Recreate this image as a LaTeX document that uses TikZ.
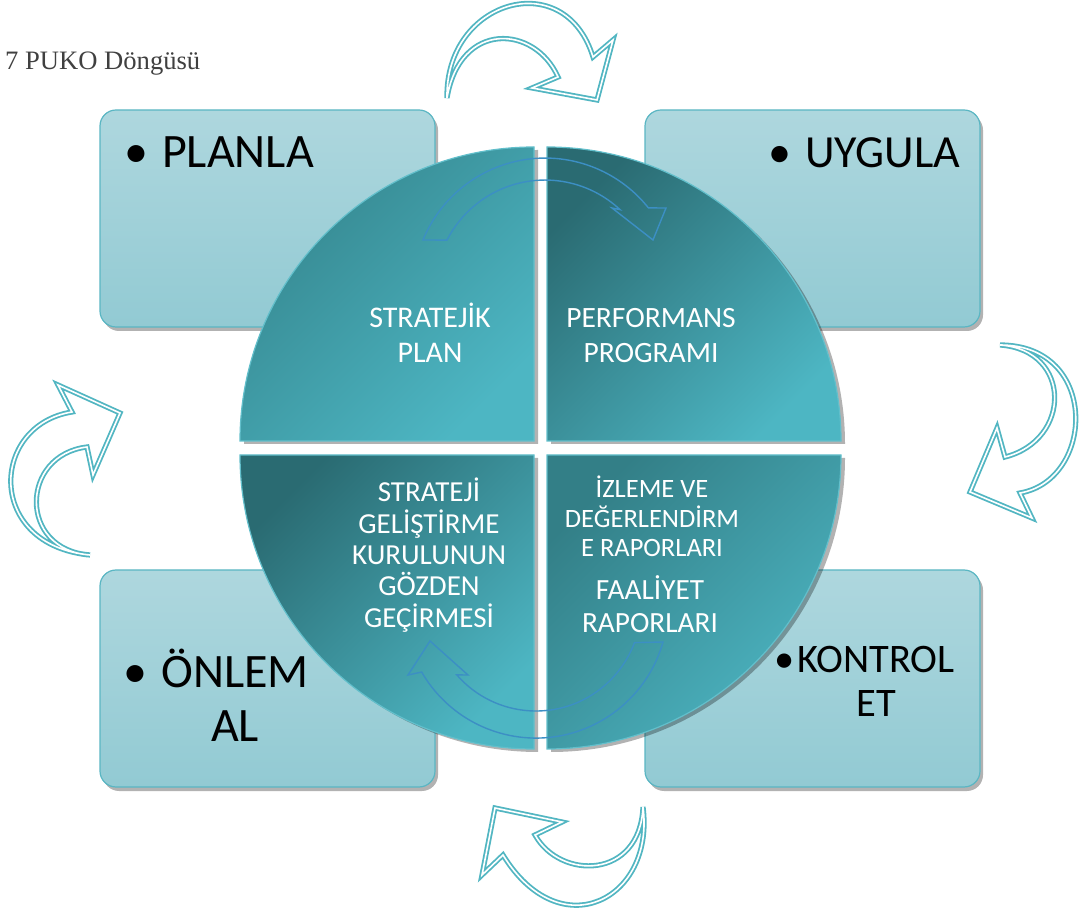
\documentclass[tikz,border=0pt]{standalone}
\usepackage{fontspec}
\setmainfont{Carlito}
\newfontfamily\titlefont{Liberation Serif}
\usetikzlibrary{shadows}
\definecolor{boxtop}{HTML}{AED7DE}
\definecolor{boxbot}{HTML}{92CAD3}
\definecolor{boxedge}{HTML}{5AB6C3}
\definecolor{arrowteal}{HTML}{52B6C2}
\definecolor{innerblue}{HTML}{3C8FC4}
\definecolor{qedge}{HTML}{62BFCB}
\definecolor{qlight}{HTML}{4DB6C3}
\definecolor{qdark}{HTML}{2A6B72}
\definecolor{qmid}{HTML}{35868E}
\definecolor{qmidb}{HTML}{337F87}
\definecolor{titlegray}{HTML}{404040}
\newcommand\mystack[1]{\vtop{\lineskiplimit=-1000pt\lineskip=0pt\halign{\hfil##\hfil\cr#1\crcr}}}
\begin{document}
\begin{tikzpicture}[x=1pt,y=1pt,
  box/.style={draw=boxedge, line width=1.2pt, rounded corners=16pt, top color=boxtop, bottom color=boxbot,
    minimum width=335pt, minimum height=217pt, inner sep=0pt,
    drop shadow={shadow xshift=3pt, shadow yshift=-4pt, opacity=0.3, fill=black}},
  quarter/.style n args={2}{draw=qedge, line width=1.2pt, top color=#1, bottom color=#2, shading angle=45,
    drop shadow={shadow xshift=4pt, shadow yshift=-3pt, opacity=0.3, fill=black}},
  innerarrow/.style={draw=innerblue, line width=1.4pt, line join=miter},
  outerarrow/.style={draw=arrowteal, line width=1.8pt, double=white, double distance=1.6pt, line join=miter},
  boxlabel/.style={inner sep=0pt, text=black, font=\fontsize{48}{54}\selectfont},
  qtext/.style={inner sep=0pt, text=white, anchor=base}
]
\useasboundingbox (0,0) rectangle (1081,913);

% boxes
\node[box] (planbox) at (267.5,694.5) {};
\node[box] (uygbox) at (812.5,694.5) {};
\node[box] (onlembox) at (267.5,234.5) {};
\node[box] (kontbox) at (812.5,234.5) {};

% box labels
\node[boxlabel, anchor=base west] (plantext) at (162,745) {\llap{•\hspace{14pt}}PLANLA};
\node[boxlabel, anchor=base west, font=\fontsize{46}{54}\selectfont] (uygtext) at (805,745) {\llap{•\hspace{14pt}}UYGULA};
\node[boxlabel, anchor=base] (onlemtext) at (235,225) {\mystack{\llap{•\hspace{14pt}}ÖNLEM\cr AL}};
\node[boxlabel, anchor=base, font=\fontsize{40.5}{44}\selectfont] (konttext) at (876,240) {\mystack{\llap{•\hspace{3pt}}KONTROL\cr ET}};

% quarters
\path[quarter={qmid}{qlight}] (534,472) -- (240,472) arc[start angle=180,end angle=90,radius=294] -- cycle;
\path[quarter={qdark}{qlight}] (547,472) -- (547,766) arc[start angle=90,end angle=0,radius=294] -- cycle;
\path[quarter={qdark}{qlight}] (534,458) -- (240,458) arc[start angle=180,end angle=270,radius=294] -- cycle;
\path[quarter={qmidb}{qlight}] (547,458) -- (841,458) arc[start angle=0,end angle=-90,radius=294] -- cycle;

% inner curved arrows
\draw[innerarrow] (423,673) arc[start angle=157.7,end angle=38.5,radius=132] -- (666,705) -- (653,673) -- (612,705) -- (620,703.4) arc[start angle=47,end angle=153,radius=110] -- cycle;
\draw[innerarrow] (663,271) arc[start angle=-15.8,end angle=-150,radius=132] -- (408,238) -- (430,272) -- (468,238) -- (456.8,238.1) arc[start angle=-139,end angle=-20.4,radius=105] -- cycle;

% quarter texts
\node[qtext, font=\fontsize{30}{35}\selectfont] (tstrat) at (430,585) {\mystack{STRATEJİK\cr PLAN}};
\node[qtext, font=\fontsize{29.5}{35}\selectfont] (tperf) at (651,585) {\mystack{PERFORMANS\cr PROGRAMI}};
\node[qtext, font=\fontsize{29}{31.3}\selectfont] (tgel) at (429,411) {\mystack{STRATEJİ\cr GELİŞTİRME\cr KURULUNUN\cr GÖZDEN\cr GEÇİRMESİ}};
\node[qtext, font=\fontsize{26.5}{29.5}\selectfont] (tizl) at (652,415) {\mystack{İZLEME VE\cr DEĞERLENDİRM\cr E RAPORLARI}};
\node[qtext, font=\fontsize{29.3}{33}\selectfont] (tfaal) at (650,313) {\mystack{FAALİYET\cr RAPORLARI}};

% outer arrows
\draw[outerarrow] (447,815) .. controls (445,913) and (565,948) .. (593,856) -- (613,873) -- (597,813) -- (532,825) -- (558,836) .. controls (535,888) and (460,893) .. (447,815) -- cycle;
\draw[outerarrow] (1000,568) .. controls (1100,568) and (1095,433) .. (1020,420) -- (1032,395) -- (970,421) -- (997,485) -- (1005,456) .. controls (1072,473) and (1072,563) .. (1000,568) -- cycle;
\draw[outerarrow] (90,358) .. controls (-15,368) and (-10,488) .. (72,501) -- (58,528) -- (120,500) -- (93,438) -- (87,466) .. controls (20,458) and (18,363) .. (90,358) -- cycle;
\draw[outerarrow] (643,106) .. controls (655,13) and (560,-35) .. (503,58) -- (482,38) -- (495,105) -- (562,91) -- (535,78) .. controls (560,33) and (640,33) .. (643,106) -- cycle;

% title
\node[anchor=base west, inner sep=0pt, text=titlegray, font=\titlefont\fontsize{26.6}{30}\selectfont] (title) at (5,843) {7 PUKO Döngüsü};
\end{tikzpicture}
\end{document}
